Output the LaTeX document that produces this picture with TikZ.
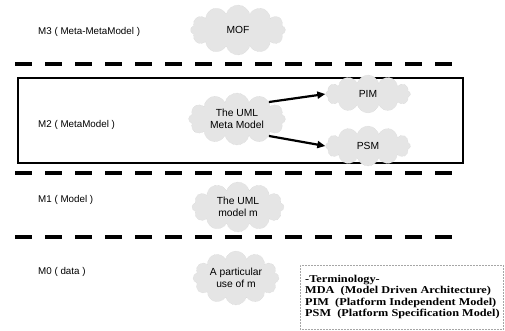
\documentclass[tikz,border=0pt]{standalone}
\usepackage{fontspec}
\setmainfont{Liberation Sans}
\newfontfamily\termfont[FakeStretch=1.17]{Liberation Serif}
\usetikzlibrary{shapes.symbols,arrows.meta}
\tikzset{
  lvl/.style={anchor=west,font=\fontsize{9.8}{11}\selectfont,inner sep=0pt},
  blob/.style={cloud,cloud puffs=12,cloud ignores aspect,fill=gray!20,draw=gray!35,densely dotted,
     font=\fontsize{10.3}{12.5}\selectfont,align=center,inner sep=0pt},
  sep/.style={line width=3.5pt,dash pattern=on 17pt off 13pt},
  flow/.style={line width=2.2pt,-{Triangle[length=8pt,width=7pt]}},
}
\begin{document}
\begin{tikzpicture}[x=1pt,y=-1pt]
\useasboundingbox (0,0) rectangle (505,331);
% separators
\coordinate (s1a) at (15,64); \coordinate (s1b) at (462,64);
\coordinate (s2a) at (15,173); \coordinate (s2b) at (462,173);
\coordinate (s3a) at (15,237); \coordinate (s3b) at (462,237);
\draw[sep] (s1a) -- (s1b);
\draw[sep] (s2a) -- (s2b);
\draw[sep] (s3a) -- (s3b);
% M2 frame
\draw[line width=2.3pt] (18,78) rectangle (463,163);
% level labels
\node[lvl] (m3) at (38,32) {M3 ( Meta-MetaModel )};
\node[lvl] (m2) at (38,125) {M2 ( MetaModel )};
\node[lvl] (m1) at (38,200) {M1 ( Model )};
\node[lvl] (m0) at (38,272) {M0 ( data )};
% clouds
\node[blob,minimum width=95pt,minimum height=50pt] (mof) at (238,30) {MOF};
\node[blob,minimum width=97pt,minimum height=52pt] (meta) at (237,119) {The UML\\Meta Model};
\node[blob,minimum width=85pt,minimum height=38pt] (pim) at (368,94) {PIM};
\node[blob,minimum width=85pt,minimum height=40pt] (psm) at (368,146) {PSM};
\node[blob,minimum width=92pt,minimum height=50pt] (umlm) at (238,207) {The UML\\model m};
\node[blob,minimum width=86pt,minimum height=54pt] (use) at (236,278) {A particular\\use of m};
% arrows
\draw[flow] (meta.28) -- (pim.west);
\draw[flow] (meta.-28) -- (psm.west);
% terminology
\node[draw=gray!70,line width=0.5pt,densely dotted,anchor=north west,inner sep=0pt,
      minimum width=203pt,minimum height=64pt] (termbox) at (300,265) {};
\node[anchor=north west,align=left,inner sep=0pt,
      font=\termfont\bfseries\fontsize{10.5}{11.5}\selectfont] (term) at (305,275)
  {-Terminology-\\MDA\ \ (Model Driven Architecture)\\PIM\ \ (Platform Independent Model)\\PSM\ \ (Platform Specification Model)};
\end{tikzpicture}
\end{document}
